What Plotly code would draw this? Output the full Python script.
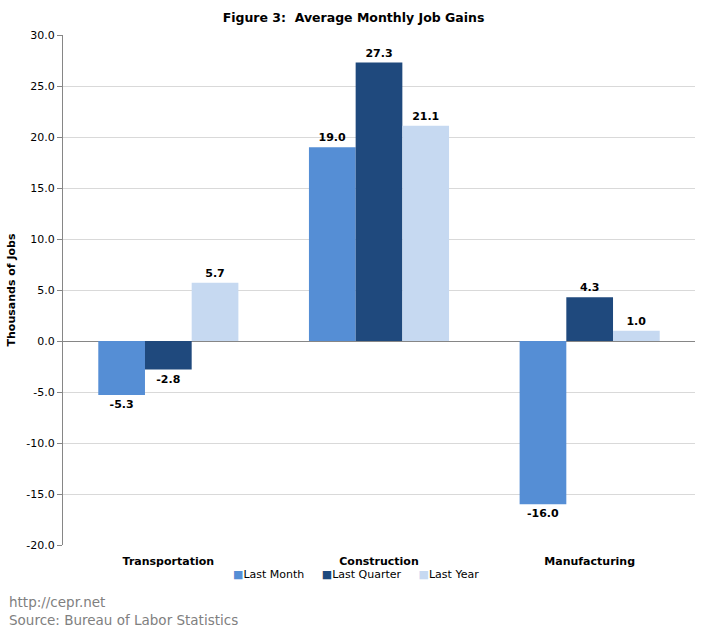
import plotly.graph_objects as go

categories = ["Transportation", "Construction", "Manufacturing"]
last_month = [-5.3, 19.0, -16.0]
last_quarter = [-2.8, 27.3, 4.3]
last_year = [5.7, 21.1, 1.0]
y_ticks = [-20, -15, -10, -5, 0, 5, 10, 15, 20, 25, 30]
y_tick_labels = ["-20.0", "-15.0", "-10.0", "-5.0", "0.0", "5.0", "10.0", "15.0", "20.0", "25.0", "30.0"]

series = [
    ("Last Month", last_month, "#558ED5"),
    ("Last Quarter", last_quarter, "#1F497D"),
    ("Last Year", last_year, "#C6D9F1"),
]

FONT = "DejaVu Sans"

fig = go.Figure()
for name, vals, color in series:
    fig.add_trace(go.Bar(
        x=categories, y=vals, name=name,
        marker=dict(color=color, line=dict(width=0)),
        text=[f"{v:.1f}" for v in vals],
        textposition="outside",
        textfont=dict(family=FONT, size=11, color="#000000", weight="bold"),
        cliponaxis=False,
        showlegend=False,
        hoverinfo="x+y+name",
    ))

legend_text = "     ".join(
    f"<span style='color:{c}'>■</span>{n}" for n, _, c in series
)

fig.update_layout(
    width=707, height=629,
    margin=dict(l=63, r=12, t=35, b=84),
    paper_bgcolor="white", plot_bgcolor="white",
    barmode="group", bargap=0.335, bargroupgap=0,
    title=dict(text="<b>Figure 3:  Average Monthly Job Gains</b>",
               x=0.5, xanchor="center", y=0.972, yanchor="middle",
               font=dict(family=FONT, size=12.5, color="#000000")),
    font=dict(family=FONT, size=11, color="#000000"),
    showlegend=False,
    xaxis=dict(showgrid=False, showline=False, ticks="outside", ticklen=6,
               tickcolor="rgba(0,0,0,0)", automargin=False,
               tickfont=dict(family=FONT, size=11, color="#000000", weight="bold")),
    yaxis=dict(range=[-20, 30], tickvals=y_ticks, ticktext=y_tick_labels,
               showgrid=True, gridcolor="#D9D9D9", gridwidth=1,
               zeroline=True, zerolinecolor="#868686", zerolinewidth=1,
               showline=True, linecolor="#868686", linewidth=1,
               ticks="outside", ticklen=5, tickcolor="#868686",
               automargin=False,
               tickfont=dict(family=FONT, size=11, color="#000000"),
               title=dict(text="<b>Thousands of Jobs</b>", standoff=8,
                          font=dict(family=FONT, size=11, color="#000000"))),
    annotations=[
        dict(text=legend_text, xref="paper", yref="paper", x=0.464, y=-0.057,
             xanchor="center", yanchor="middle", showarrow=False,
             font=dict(family=FONT, size=11, color="#000000")),
        dict(text="http://cepr.net<br>Source: Bureau of Labor Statistics",
             xref="paper", yref="paper", x=-0.089, y=-0.092,
             xanchor="left", yanchor="top", align="left", showarrow=False,
             font=dict(family=FONT, size=13.5, color="#808080")),
    ],
)

fig.write_html("out.html", config={"displayModeBar": False},
               post_script="document.body.style.margin='0';")
